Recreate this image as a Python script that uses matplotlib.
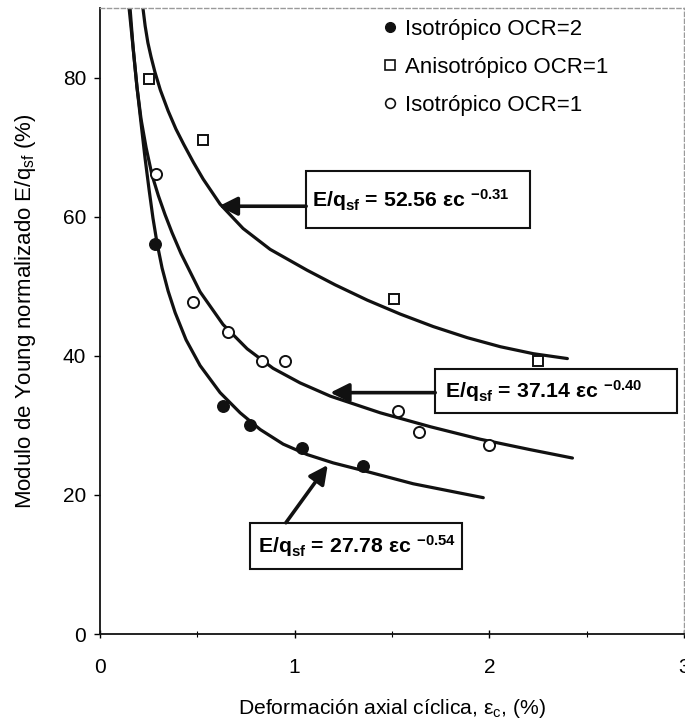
import matplotlib
matplotlib.use("Agg")
import matplotlib.pyplot as plt
from matplotlib.lines import Line2D
from matplotlib.patches import Rectangle

plt.rcParams["font.family"] = ["Liberation Sans", "DejaVu Sans"]
plt.rcParams["mathtext.fontset"] = "custom"
plt.rcParams["mathtext.rm"] = "Liberation Sans"
plt.rcParams["mathtext.it"] = "Liberation Sans:italic"
plt.rcParams["mathtext.bf"] = "Liberation Sans:bold"

# puntos medidos
iso_ocr2_x = [0.28, 0.63, 0.77, 1.04, 1.35]
iso_ocr2_y = [56.0, 32.8, 30.0, 26.8, 24.2]

aniso_ocr1_x = [0.25, 0.53, 1.51, 2.25]
aniso_ocr1_y = [79.8, 71.0, 48.1, 39.2]

iso_ocr1_x = [0.29, 0.48, 0.66, 0.83, 0.95, 1.53, 1.64, 2.00]
iso_ocr1_y = [66.2, 47.7, 43.4, 39.3, 39.3, 32.1, 29.0, 27.2]

# curvas de ajuste
fit_aniso_x = [0.220, 0.232, 0.246, 0.262, 0.282, 0.310, 0.350, 0.390, 0.430, 0.480,
               0.530, 0.617, 0.735, 0.874, 1.064, 1.208, 1.373, 1.542, 1.712, 1.887,
               2.057, 2.226, 2.401]
fit_aniso_y = [90.1, 87.4, 85.0, 83.0, 80.8, 78.2, 75.2, 72.6, 70.4, 67.8,
               65.4, 61.8, 58.3, 55.3, 52.3, 50.2, 48.0, 46.0, 44.2, 42.6,
               41.3, 40.3, 39.6]

fit_iso1_x = [0.154, 0.170, 0.190, 0.211, 0.237, 0.267, 0.300, 0.334, 0.370, 0.416,
              0.514, 0.632, 0.756, 0.889, 1.028, 1.183, 1.440, 1.697, 1.954, 2.211,
              2.427]
fit_iso1_y = [90.1, 84.3, 78.6, 74.0, 69.9, 66.0, 63.0, 60.3, 57.7, 54.7,
              49.2, 44.5, 41.0, 38.2, 36.1, 34.2, 31.8, 29.8, 28.0, 26.5,
              25.3]

fit_iso2_x = [0.149, 0.170, 0.190, 0.211, 0.231, 0.252, 0.272, 0.293, 0.319, 0.350,
              0.386, 0.442, 0.514, 0.617, 0.720, 0.823, 0.941, 1.064, 1.198, 1.352,
              1.609, 1.969]
fit_iso2_y = [90.1, 84.3, 78.6, 73.4, 68.5, 63.9, 59.8, 56.2, 52.6, 49.3,
              46.2, 42.3, 38.6, 34.7, 31.8, 29.4, 27.3, 25.8, 24.6, 23.5,
              21.6, 19.6]

labels = ["Isotrópico OCR=2", "Anisotrópico OCR=1", "Isotrópico OCR=1"]
x_ticks = [0, 1, 2, 3]
y_ticks = [0, 20, 40, 60, 80]

ink = "#111111"

fig = plt.figure(figsize=(6.85, 7.26), dpi=100)
ax = fig.add_axes([0.146, 0.1267, 0.8525, 0.8623])

for fx, fy in [(fit_aniso_x, fit_aniso_y), (fit_iso1_x, fit_iso1_y), (fit_iso2_x, fit_iso2_y)]:
    ax.plot(fx, fy, color=ink, lw=2.3, solid_capstyle="round", solid_joinstyle="round", zorder=2)

ax.plot(iso_ocr2_x, iso_ocr2_y, "o", ms=8.3, color=ink, zorder=3)
ax.plot(aniso_ocr1_x, aniso_ocr1_y, "s", ms=7.5, mfc="white", mec=ink, mew=1.4, zorder=3)
ax.plot(iso_ocr1_x, iso_ocr1_y, "o", ms=8, mfc="white", mec=ink, mew=1.4, zorder=3)

# cajas con las ecuaciones
boxes = [
    ((1.059, 58.3), 1.152, 8.2, r"E/q$_{\mathbf{sf}}$ = 52.56 εc $^{\mathbf{-0.31}}$", 1.09, 62.4),
    ((1.722, 31.8), 1.243, 6.3, r"E/q$_{\mathbf{sf}}$ = 37.14 εc $^{\mathbf{-0.40}}$", 1.77, 34.95),
    ((0.768, 9.3), 1.091, 6.7, r"E/q$_{\mathbf{sf}}$ = 27.78 εc $^{\mathbf{-0.54}}$", 0.81, 12.65),
]
for (x0, y0), w, h, txt, tx, ty in boxes:
    ax.add_patch(Rectangle((x0, y0), w, h, fill=True, fc="white", ec=ink, lw=1.5, zorder=4))
    ax.text(tx, ty, txt, fontsize=15.3, fontweight="bold", ha="left", va="center", zorder=5)

arrow_kw = dict(arrowstyle="-|>", lw=2.6, color=ink, mutation_scale=28, shrinkA=0, shrinkB=0)
ax.annotate("", xy=(0.61, 61.5), xytext=(1.059, 61.5), arrowprops=arrow_kw, zorder=4)
ax.annotate("", xy=(1.183, 34.7), xytext=(1.722, 34.7), arrowprops=arrow_kw, zorder=4)
ax.annotate("", xy=(1.17, 24.3), xytext=(0.955, 16.0), arrowprops=arrow_kw, zorder=4)

ax.set_xlim(0, 3)
ax.set_ylim(0, 90)
ax.set_xticks(x_ticks)
ax.set_xticks([0.5, 1.5, 2.5], minor=True)
ax.set_yticks(y_ticks)
ax.tick_params(axis="x", direction="inout", length=6, width=1.0, pad=14, labelsize=15)
ax.tick_params(axis="x", which="minor", direction="inout", length=4, width=0.8)
ax.tick_params(axis="y", direction="out", length=4, width=1.0, pad=6, labelsize=15)

for side in ["left", "bottom"]:
    ax.spines[side].set_color(ink)
    ax.spines[side].set_linewidth(1.3)
for side in ["top", "right"]:
    ax.spines[side].set_color("#9a9a9a")
    ax.spines[side].set_linewidth(1.0)
    ax.spines[side].set_linestyle((0, (3, 2)))

ax.set_xlabel("Deformación axial cíclica, ε$_{\\mathrm{c}}$, (%)", fontsize=15.2, labelpad=15)
ax.set_ylabel("Modulo de Young normalizado E/q$_{\\mathrm{sf}}$ (%)", fontsize=16)
ax.yaxis.set_label_coords(-0.107, 0.516)

handles = [
    Line2D([], [], ls="none", marker="o", ms=7, color=ink),
    Line2D([], [], ls="none", marker="s", ms=7, mfc="white", mec=ink, mew=1.2),
    Line2D([], [], ls="none", marker="o", ms=7, mfc="white", mec=ink, mew=1.2),
]
ax.legend(handles, labels, loc="upper left", bbox_to_anchor=(0.481, 0.982), frameon=False,
          fontsize=16, handlelength=0.8, handletextpad=0.3, labelspacing=0.75, borderpad=0,
          borderaxespad=0)

fig.savefig("out.png", dpi=100)
